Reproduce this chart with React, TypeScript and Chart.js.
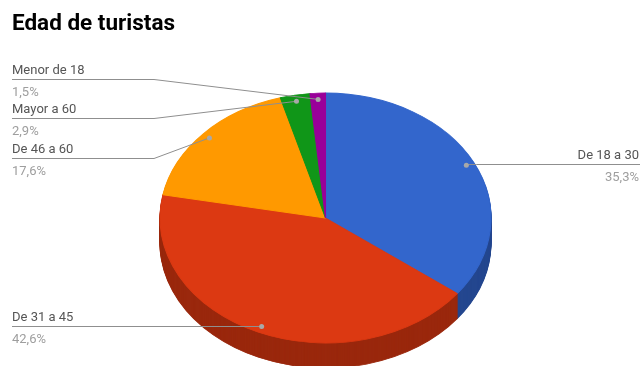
import React, { useEffect, useRef } from "react";
import { Chart, registerables } from "chart.js";

Chart.register(...registerables);

// ---- data ----
const TITLE = "Edad de turistas";
const CATEGORIES = ["De 18 a 30", "De 31 a 45", "De 46 a 60", "Mayor a 60", "Menor de 18"];
const VALUES = [35.3, 42.6, 17.6, 2.9, 1.5];

// ---- styles ----
const COLORS = ["#3366CC", "#DC3912", "#FF9900", "#109618", "#990099"];
const SIDE_COLORS = ["#24478F", "#9A280D", "#B36B00", "#0B6911", "#6B006B"];

// ---- layout (3D projection & label placement) ----
const ELLIPSE = { cx: 325.5, cy: 218, rx: 165.5, ry: 125, depth: 25 };
const LABEL_SIDE = ["right", "left", "left", "left", "left"];
const LABEL_LINE_Y = [164, 326, 158, 118, 79];
const LEFT_X = 12;
const RIGHT_X = 640;
const ELBOW_X = 154;

const FONT = "Roboto, 'Noto Sans', sans-serif";

function pctLabel(v: number, total: number) {
  return ((v / total) * 100).toFixed(1).replace(".", ",") + "%";
}

const pie3d = {
  id: "pie3d",
  beforeDatasetsDraw(chart: any) {
    const meta = chart.getDatasetMeta(0);
    const arcs = meta.data as any[];
    const ctx = chart.ctx as CanvasRenderingContext2D;
    ctx.save();
    if (!arcs.length) return;
    const a0 = arcs[0];
    const R = a0.outerRadius;
    const apply = (d: number) => {
      ctx.translate(ELLIPSE.cx, ELLIPSE.cy + d);
      ctx.scale(ELLIPSE.rx / R, ELLIPSE.ry / R);
      ctx.translate(-a0.x, -a0.y);
    };
    for (let d = ELLIPSE.depth; d >= 1; d--) {
      ctx.save();
      apply(d);
      arcs.forEach((arc, i) => {
        const fake = Object.create(arc);
        fake.options = {
          ...arc.options,
          backgroundColor: SIDE_COLORS[i],
          borderColor: SIDE_COLORS[i],
          borderWidth: 1,
        };
        fake.draw(ctx);
      });
      ctx.restore();
    }
    apply(0);
  },
  afterDatasetsDraw(chart: any) {
    const ctx = chart.ctx as CanvasRenderingContext2D;
    ctx.restore();
    const meta = chart.getDatasetMeta(0);
    const arcs = meta.data as any[];
    const total = VALUES.reduce((a, b) => a + b, 0);
    const dots: [number, number][] = [];
    ctx.save();
    ctx.strokeStyle = "#8f8f8f";
    ctx.lineWidth = 1;
    arcs.forEach((arc, i) => {
      const mid = (arc.startAngle + arc.endAngle) / 2;
      const dx = ELLIPSE.cx + 0.95 * ELLIPSE.rx * Math.cos(mid);
      const dy = ELLIPSE.cy + 0.95 * ELLIPSE.ry * Math.sin(mid);
      dots.push([dx, dy]);
      const ly = LABEL_LINE_Y[i] + 0.5;
      ctx.beginPath();
      if (LABEL_SIDE[i] === "left") {
        ctx.moveTo(LEFT_X, ly);
        if (Math.abs(dy - ly) < 3) {
          ctx.lineTo(dx, ly);
        } else {
          ctx.lineTo(ELBOW_X, ly);
          ctx.lineTo(dx, dy);
        }
      } else {
        ctx.moveTo(dx, Math.abs(dy - ly) < 3 ? ly : dy);
        ctx.lineTo(dx + 10, ly);
        ctx.lineTo(RIGHT_X, ly);
      }
      ctx.stroke();

      ctx.textBaseline = "alphabetic";
      ctx.textAlign = LABEL_SIDE[i] === "left" ? "left" : "right";
      const tx = LABEL_SIDE[i] === "left" ? LEFT_X : RIGHT_X - 1;
      ctx.font = `13px ${FONT}`;
      ctx.fillStyle = "#555555";
      ctx.fillText(CATEGORIES[i], tx, LABEL_LINE_Y[i] - 5);
      ctx.fillStyle = "#9e9e9e";
      ctx.fillText(pctLabel(VALUES[i], total), tx, LABEL_LINE_Y[i] + 17);
    });
    ctx.fillStyle = "#a8a8a8";
    dots.forEach(([x, y]) => {
      ctx.beginPath();
      ctx.arc(x, y, 2.5, 0, Math.PI * 2);
      ctx.fill();
    });
    ctx.restore();
  },
};

export default function App() {
  const ref = useRef<HTMLCanvasElement | null>(null);
  useEffect(() => {
    if (!ref.current) return;
    const chart = new Chart(ref.current, {
      type: "pie",
      data: {
        labels: CATEGORIES,
        datasets: [
          {
            data: VALUES,
            backgroundColor: COLORS,
            borderColor: COLORS,
            borderWidth: 1,
            clip: false as any,
          },
        ],
      },
      options: {
        responsive: false,
        animation: false,
        events: [],
        layout: { padding: { left: 12, right: 12, top: 0, bottom: 10 } },
        plugins: {
          legend: { display: false },
          tooltip: { enabled: false },
          title: {
            display: true,
            text: TITLE,
            align: "start",
            color: "#000000",
            font: { family: FONT, size: 22.5, weight: "bold" },
            padding: { top: 11, bottom: 10 },
          },
        },
      },
      plugins: [pie3d],
    });
    (document as any).fonts?.ready?.then(() => chart.draw());
    return () => chart.destroy();
  }, []);
  return (
    <div style={{ position: "fixed", left: 0, top: 0, width: 642, height: 366, background: "#fff" }}>
      <canvas ref={ref} width={642} height={366} />
    </div>
  );
}
